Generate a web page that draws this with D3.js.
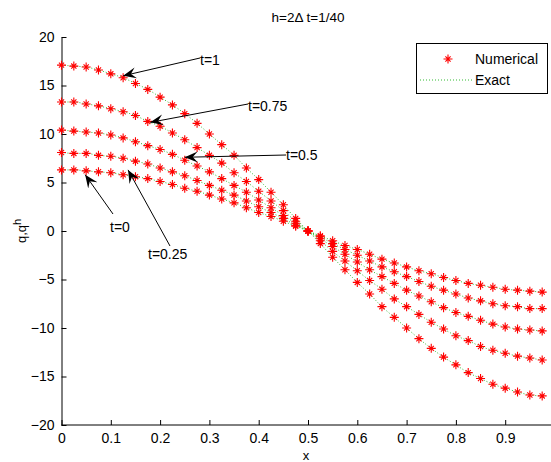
<!DOCTYPE html>
<html>
<head>
<meta charset="utf-8">
<script src="https://cdn.jsdelivr.net/npm/d3@7"></script>
<style>
  body { margin: 0; background: #fff; }
  svg text { font-family: Arial, "Liberation Sans", sans-serif; fill: #000; }
</style>
</head>
<body>
<div id="chart"></div>
<script>
// DATA - x grid and five time levels
const xs = d3.range(40).map(function(k) { return k / 40; });

const q_t0 = [6.3, 6.3, 6.2, 6.1, 6.0, 5.8, 5.6, 5.4, 5.1, 4.8, 4.4, 4.1, 3.7, 3.3, 2.9, 2.4, 1.9, 1.5, 1.0, 0.5,
              0, -0.5, -1.0, -1.5, -1.9, -2.4, -2.9, -3.3, -3.7, -4.1, -4.4, -4.8, -5.1, -5.4, -5.6, -5.8, -6.0, -6.1, -6.2, -6.3];
const q_t025 = [8.1, 8.0, 8.0, 7.8, 7.7, 7.5, 7.2, 6.9, 6.5, 6.1, 5.7, 5.2, 4.7, 4.2, 3.7, 3.1, 2.5, 1.9, 1.3, 0.6,
                0, -0.6, -1.3, -1.9, -2.5, -3.1, -3.7, -4.2, -4.7, -5.2, -5.7, -6.1, -6.5, -6.9, -7.2, -7.5, -7.7, -7.8, -8.0, -8.0];
const q_t05 = [10.4, 10.3, 10.2, 10.1, 9.9, 9.6, 9.2, 8.8, 8.4, 7.9, 7.3, 6.7, 6.1, 5.4, 4.7, 4.0, 3.2, 2.4, 1.6, 0.8,
               0, -0.8, -1.6, -2.4, -3.2, -4.0, -4.7, -5.4, -6.1, -6.7, -7.3, -7.9, -8.4, -8.8, -9.2, -9.6, -9.9, -10.1, -10.2, -10.3];
const q_t075 = [13.3, 13.3, 13.1, 12.9, 12.6, 12.3, 11.9, 11.3, 10.8, 10.1, 9.4, 8.6, 7.8, 7.0, 6.0, 5.1, 4.1, 3.1, 2.1, 1.0,
                0, -1.0, -2.1, -3.1, -4.1, -5.1, -6.0, -7.0, -7.8, -8.6, -9.4, -10.1, -10.8, -11.3, -11.9, -12.3, -12.6, -12.9, -13.1, -13.3];
const q_t1 = [17.1, 17.0, 16.9, 16.6, 16.2, 15.8, 15.2, 14.6, 13.8, 13.0, 12.1, 11.1, 10.0, 8.9, 7.8, 6.5, 5.3, 4.0, 2.7, 1.3,
              0, -1.3, -2.7, -4.0, -5.3, -6.5, -7.8, -8.9, -10.0, -11.1, -12.1, -13.0, -13.8, -14.6, -15.2, -15.8, -16.2, -16.6, -16.9, -17.0];

const series = [q_t0, q_t025, q_t05, q_t075, q_t1];

const xTicks = [0, 0.1, 0.2, 0.3, 0.4, 0.5, 0.6, 0.7, 0.8, 0.9];
const yTicks = [-20, -15, -10, -5, 0, 5, 10, 15, 20];

// annotation labels: arrow tip in data units, line start + text position in px
const notes = [
    {label: "t=1",    tip: [0.125, 16.0], from: [200, 58],  text: [200, 65]},
    {label: "t=0.75", tip: [0.18, 11.2],  from: [248, 104], text: [248, 111]},
    {label: "t=0.5",  tip: [0.25, 7.6],   from: [286, 155], text: [286, 160]},
    {label: "t=0",    tip: [0.048, 5.8],  from: [113, 214], text: [110, 232]},
    {label: "t=0.25", tip: [0.135, 6.3],  from: [170, 246], text: [148, 259]}
];

// SET UP
const width = 551, height = 462;
const margin = {top: 37, left: 61.5, right: 0, bottom: 37};

const svg = d3.select("#chart")
    .append("svg")
    .attr("width", width)
    .attr("height", height);

const xScale = d3.scaleLinear()
    .domain([0, 1])
    .range([margin.left, margin.left + 493]);

const yScale = d3.scaleLinear()
    .domain([-20, 20])
    .range([height - margin.bottom, margin.top]);

// AXES (MATLAB style: ticks pointing inward)
const xAxis = svg.append("g")
    .attr("transform", `translate(0,${height - margin.bottom})`)
    .call(d3.axisBottom(xScale).tickValues(xTicks).tickSizeInner(-5).tickSizeOuter(0).tickPadding(8)
        .tickFormat(function(d) { return d; }));

const yAxis = svg.append("g")
    .attr("transform", `translate(${margin.left},0)`)
    .call(d3.axisLeft(yScale).tickValues(yTicks).tickSizeInner(-5).tickSizeOuter(0).tickPadding(7));

svg.selectAll(".domain").attr("stroke", "#000").attr("stroke-width", 1);
svg.selectAll(".tick line").attr("stroke", "#000");
svg.selectAll(".tick text").style("font-size", "14px").style("font-family", "Arial, 'Liberation Sans', sans-serif");
xAxis.select(".domain").attr("d", `M${margin.left},0H${width}`);

// AXIS LABELS
svg.append("text")
    .attr("x", 308)
    .attr("y", 22)
    .attr("text-anchor", "middle")
    .style("font-size", "13.5px")
    .text("h=2\u0394 t=1/40");

svg.append("text")
    .attr("x", 306)
    .attr("y", 460)
    .attr("text-anchor", "middle")
    .style("font-size", "13px")
    .text("x");

const ylab = svg.append("text")
    .attr("transform", "translate(26,231) rotate(-90)")
    .attr("text-anchor", "middle")
    .style("font-size", "13px");
ylab.append("tspan").text("q,q");
ylab.append("tspan").attr("dy", -5).style("font-size", "11px").text("h");

// EXACT - green dotted lines
const line = d3.line()
    .x(function(d, i) { return xScale(xs[i]); })
    .y(function(d) { return yScale(d); })
    .curve(d3.curveMonotoneX);

svg.selectAll(".exact")
    .data(series)
    .enter()
    .append("path")
        .attr("class", "exact")
        .attr("d", line)
        .attr("fill", "none")
        .attr("stroke", "#33bb33")
        .attr("stroke-width", 1)
        .attr("stroke-dasharray", "1,2");

// MARKS - red asterisks (MATLAB '*')
const star = "M-4.5,0H4.5M0,-4.5V4.5M-2.6,-2.6L2.6,2.6M-2.6,2.6L2.6,-2.6";

series.forEach(function(s) {
    svg.append("g").selectAll("path")
        .data(s)
        .enter()
        .append("path")
            .attr("transform", function(d, i) { return `translate(${xScale(xs[i])},${yScale(d)})`; })
            .attr("d", star)
            .attr("stroke", "#ff0000")
            .attr("stroke-width", 1.1)
            .attr("fill", "none");
});

// ANNOTATIONS
svg.append("defs").append("marker")
    .attr("id", "head")
    .attr("viewBox", "-13 -6 14 12")
    .attr("refX", 0)
    .attr("refY", 0)
    .attr("markerWidth", 14)
    .attr("markerHeight", 12)
    .attr("markerUnits", "userSpaceOnUse")
    .attr("orient", "auto")
    .append("path")
        .attr("d", "M0,0L-13,-5.5L-8,0L-13,5.5Z")
        .attr("fill", "#000");

notes.forEach(function(n) {
    svg.append("line")
        .attr("x1", n.from[0])
        .attr("y1", n.from[1])
        .attr("x2", xScale(n.tip[0]))
        .attr("y2", yScale(n.tip[1]))
        .attr("stroke", "#000")
        .attr("stroke-width", 1)
        .attr("marker-end", "url(#head)");

    svg.append("text")
        .attr("x", n.text[0])
        .attr("y", n.text[1])
        .style("font-size", "14px")
        .text(n.label);
});

// LEGEND
const legend = svg.append("g");
legend.append("rect")
    .attr("x", 416.5)
    .attr("y", 43.5)
    .attr("width", 131)
    .attr("height", 50)
    .attr("fill", "#fff")
    .attr("stroke", "#000");
legend.append("path")
    .attr("transform", "translate(448,59)")
    .attr("d", star)
    .attr("stroke", "#ff0000")
    .attr("stroke-width", 1.1);
legend.append("line")
    .attr("x1", 420).attr("x2", 472)
    .attr("y1", 80).attr("y2", 80)
    .attr("stroke", "#33bb33")
    .attr("stroke-dasharray", "1,2");
legend.append("text").attr("x", 475).attr("y", 64).style("font-size", "14px").text("Numerical");
legend.append("text").attr("x", 475).attr("y", 85).style("font-size", "14px").text("Exact");
</script>
</body>
</html>
